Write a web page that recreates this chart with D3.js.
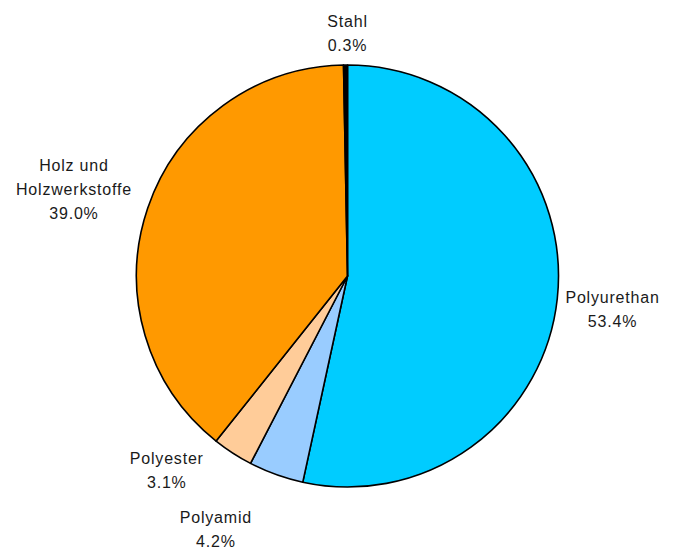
<!DOCTYPE html>
<html><head><meta charset="utf-8">
<script src="https://cdn.jsdelivr.net/npm/d3@7"></script>
<style>body{margin:0;background:#fff}</style>
</head><body>
<script>
const categories = ["Polyurethan","Polyamid","Polyester","Holz und Holzwerkstoffe","Stahl"];
const labelLines = [["Polyurethan"],["Polyamid"],["Polyester"],["Holz und","Holzwerkstoffe"],["Stahl"]];
const values = [53.4, 4.2, 3.1, 39.0, 0.3];
const colors = ["#00CCFF","#99CCFF","#FFCC99","#FF9900","#000000"];

// label placement (layout only): angle in degrees (clockwise from top), distance from centre
const labelPlace = [[97,267],[207.5,285],[223,265],[287.6,287],[0,243]];

const W=683,H=549,cx=347.5,cy=276,R=211;
const svg=d3.select("body").append("svg").attr("width",W).attr("height",H);
const g=svg.append("g").attr("transform",`translate(${cx},${cy})`);
const data=categories.map((c,i)=>({c,v:values[i],i}));
const pie=d3.pie().value(d=>d.v).sort(null);
const arc=d3.arc().innerRadius(0).outerRadius(R);
const arcs=pie(data);
g.selectAll("path").data(arcs).enter().append("path")
 .attr("d",arc).attr("fill",d=>colors[d.data.i])
 .attr("stroke","#000").attr("stroke-width",1.6).attr("stroke-linejoin","round");

const lh=24;
arcs.forEach(d=>{
  const i=d.data.i;
  const [a,r]=labelPlace[i];
  const rad=a*Math.PI/180;
  const x=r*Math.sin(rad), y=-r*Math.cos(rad);
  const lines=[...labelLines[i], d3.format(".1f")(d.data.v)+"%"];
  const t=g.append("text").attr("text-anchor","middle")
   .attr("font-family","Liberation Sans, Arial, sans-serif").attr("font-size",16)
   .attr("letter-spacing","0.8px").attr("fill","#1a1a1a");
  const y0=y-(lines.length-1)*lh/2+6;
  lines.forEach((l,k)=>t.append("tspan").attr("x",x).attr("y",y0+k*lh).text(l));
});
</script>
</body></html>
